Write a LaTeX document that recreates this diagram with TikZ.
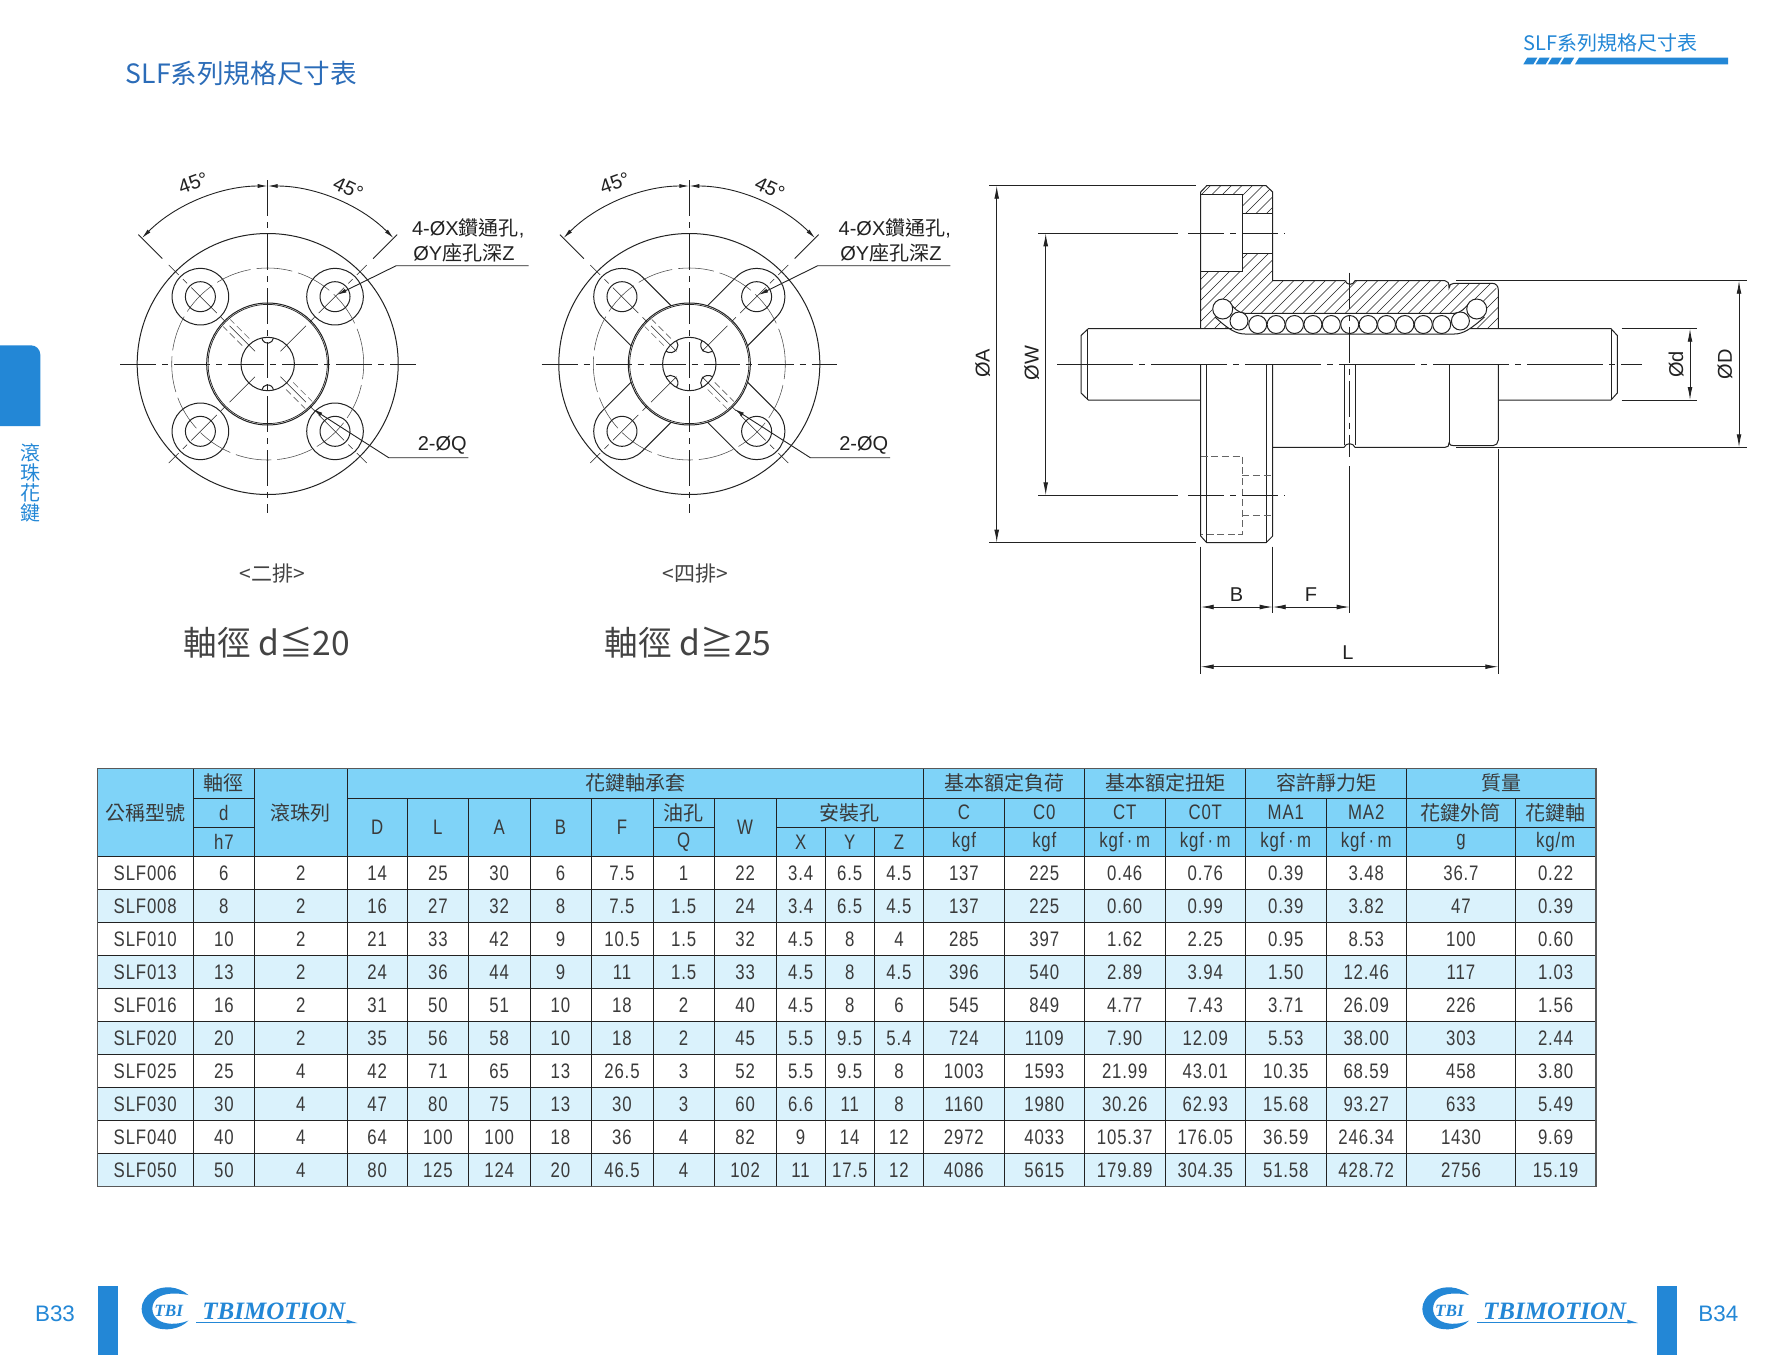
\documentclass[tikz,border=0pt]{standalone}
\usepackage{fontspec}
\usetikzlibrary{arrows.meta}
\setmainfont{Liberation Sans}
\newfontfamily\cjk{Noto Sans CJK TC}
\newfontfamily\tabf[FakeStretch=0.8,LetterSpace=4]{Liberation Sans}
\newfontfamily\logof{Liberation Serif}
\definecolor{ink}{HTML}{222222}
\definecolor{tabtext}{HTML}{3A3A3A}
\definecolor{hdfill}{HTML}{7FD3F8}
\definecolor{altfill}{HTML}{DAF2FC}
\definecolor{brand}{HTML}{2387D6}
\definecolor{titleblue}{HTML}{2B6CB8}
\newcommand\fz[1]{\fontsize{#1}{#1}\selectfont}
\newcommand\cz[1]{{\cjk\fz{10}#1}}
\newcommand\kgfm{kgf\,·\,m}
\tikzset{
  ol/.style={draw=ink,line width=0.5pt},
  olthin/.style={draw=ink,line width=0.35pt},
  cl/.style={draw=ink,line width=0.28pt,dash pattern=on 18pt off 3pt on 3pt off 3pt},
  clong/.style={draw=ink,line width=0.28pt,dash pattern=on 38pt off 3pt on 3pt off 3pt},
  hid/.style={draw=ink!70,line width=0.28pt,dash pattern=on 3.5pt off 1.8pt},
  pcd/.style={draw=ink!80,line width=0.28pt,dash pattern=on 18pt off 3pt},
  dimline/.style={draw=ink,line width=0.4pt},
  smallarr/.style={draw=ink,line width=0.45pt,{Latex[length=5pt,width=2pt]}-{Latex[length=5pt,width=2pt]}},
  onearr/.style={draw=ink,line width=0.45pt,-{Latex[length=5pt,width=2pt]}},
  bigarr/.style={draw=ink,line width=0.45pt,{Latex[length=6.5pt,width=2.4pt]}-{Latex[length=6.5pt,width=2.4pt]}},
  lab/.style={inner sep=0pt,text=ink,font=\fz{10}},
  tcell/.style={inner sep=0pt,text=tabtext,font=\tabf\fz{10.5}},
  gridin/.style={draw=ink,line width=0.4pt},
  gridout/.style={draw=ink!75,line width=0.7pt},
  bluetxt/.style={inner sep=0pt,text=brand},
}
\def\colx{{97.2,193.3,254.5,347.2,407.2,468.5,530,591,653,714.3,776,825.2,874.3,923.6,1004.2,1084.4,1165,1245.6,1326,1406.5,1515.4,1595.8}}
\newcommand\hcell[6]{%
  \pgfmathsetmacro\hxa{\colx[#2]}%
  \pgfmathsetmacro\hxb{\colx[#3]}%
  \pgfmathsetmacro\hx{(\hxa+\hxb)/2}%
  \pgfmathsetmacro\hy{-(#4+#5)/2}%
  \node[tcell] (#1) at (\hx,\hy) {#6};}
\newcommand\vgrid[3]{\foreach \ix in {#1}{\pgfmathsetmacro\vx{\colx[\ix]}\draw[gridin] (\vx,-#2)--(\vx,-#3);}}
\newcommand\hgrid[3]{\pgfmathsetmacro\hxa{\colx[#1]}\pgfmathsetmacro\hxb{\colx[#2]}\draw[gridin] (\hxa,-#3)--(\hxb,-#3);}
% parts shared by the two flange views, in coordinates relative to the centre
\newcommand\flangeparts[3]{%
  \draw[ol] (0,0) circle (130.5);
  \draw[pcd] (0,0) circle (96);
  \draw[olthin] (0,0) circle (59.6);
  \draw[ol] (0,0) circle (61);
  \draw[ol] (0,0) circle (26.7);
  \foreach \a in {45,135,225,315}{
    \draw[ol] (\a:95.2) circle (15);
    \draw[cl] (\a:18) -- (\a:140);
  }
  \foreach \a in {#1}{
    \draw[ol] (\a:26.7) ++({\a+100}:#2) arc ({\a+100}:{\a+260}:#2);
  }
  \foreach \a in {135,-45}{
    \draw[hid,rotate=\a] (31,5) -- (58,5);
    \draw[hid,rotate=\a] (31,-5) -- (58,-5);
  }
  \draw[cl] (-147.7,0) -- (148,0);
  \draw[cl] (0,184) -- (0,-148.7);
  \draw[dimline] (135:149) -- (135:183);
  \draw[dimline] (45:149) -- (45:183);
  \draw[smallarr] (135:178) arc (135:90:178);
  \draw[smallarr] (90:178) arc (90:45:178);
  \node[lab,font=\fz{10},rotate=20] (ang#3l) at (-74.5,181) {45°};
  \node[lab,font=\fz{10},rotate=-25] (ang#3r) at (80.6,175.7) {45°};
  \coordinate (k#3a) at (128.5,98.3);
  \coordinate (e#3a) at (261,98.3);
  \coordinate (t#3a) at (69,69);
  \draw[onearr] (e#3a) -- (k#3a) -- (t#3a);
  \coordinate (k#3b) at (121,-93.7);
  \coordinate (e#3b) at (200.7,-93.7);
  \coordinate (t#3b) at (45,-45);
  \draw[onearr] (e#3b) -- (k#3b) -- (t#3b);
  \node[lab,anchor=center] (lq#3) at (174.5,-81) {2-ØQ};
}
\newcommand\tbilogo[2]{%
  \begin{scope}[shift={(#1,-1270)},x=0.16667pt,y=0.16667pt]
    \fill[brand] (565,-75) .. controls (535,-48) and (490,-46) .. (462,-62)
      .. controls (435,-78) and (425,-98) .. (425,-116)
      .. controls (425,-140) and (440,-162) .. (465,-172)
      .. controls (495,-184) and (540,-178) .. (565,-152)
      .. controls (530,-166) and (492,-164) .. (472,-148)
      .. controls (452,-132) and (452,-100) .. (472,-84)
      .. controls (492,-68) and (530,-68) .. (565,-75) -- cycle;
    \node[inner sep=0pt,text=brand,font=\logof\bfseries\itshape\fz{8.6}] (tbi#2) at (506,-122) {TBI};
    \node[inner sep=0pt,text=brand,font=\logof\bfseries\itshape\fz{12.5},anchor=west] (motion#2) at (606,-123) {TBIMOTION};
    \fill[brand] (588,-155) rectangle (1048,-159);
    \fill[brand] (1040,-149) -- (1072,-159) -- (1040,-160) -- cycle;
  \end{scope}}
\begin{document}
\begin{tikzpicture}[x=0.5pt,y=0.5pt]
\fill[white] (0,0) rectangle (1772,-1355);
\useasboundingbox (0,0) rectangle (1772,-1355);

% ---------- page furniture
\node[inner sep=0pt,anchor=west,text=titleblue,font=\cjk\fz{13.3}] (title) at (125.4,-73.5) {SLF系列規格尺寸表};
\node[bluetxt,anchor=west,font=\cjk\fz{10}] (sect) at (1523,-43) {SLF系列規格尺寸表};
\foreach \i in {0,1,2,3}{
  \fill[brand] ({1523.3+12.3*\i},-64.3) -- ({1527.3+12.3*\i},-57.7) -- ({1537.3+12.3*\i},-57.7) -- ({1533.3+12.3*\i},-64.3) -- cycle;
}
\fill[brand] (1575,-64.3) -- (1579,-57.7) -- (1728,-57.7) -- (1728,-64.3) -- cycle;
\fill[brand] (0,-345.3) -- (31,-345.3) arc (90:0:9.3) -- (40.3,-426) -- (0,-426) -- cycle;
\node[bluetxt,font=\cjk\fz{10}] (s1) at (30,-452.7) {滾};
\node[bluetxt,font=\cjk\fz{10}] (s2) at (30,-472.7) {珠};
\node[bluetxt,font=\cjk\fz{10}] (s3) at (30,-493.3) {花};
\node[bluetxt,font=\cjk\fz{10}] (s4) at (30,-513.3) {鍵};
\node[bluetxt,font=\fz{11.2}] (p33) at (55,-1313.3) {B33};
\node[bluetxt,font=\fz{11.2}] (p34) at (1718.3,-1313.3) {B34};
\fill[brand] (97.7,-1286) rectangle (117.7,-1355);
\fill[brand] (1657.3,-1286) rectangle (1677.3,-1355);
\tbilogo{0}{a}
\tbilogo{1280.7}{b}

% ---------- flange view, two rows
\begin{scope}[shift={(267.7,-364)}]
  \foreach \a in {45,135,225,315}{\draw[ol] (\a:95.2) circle (28.3);}
  \flangeparts{90,270}{5.8}{a}
  \node[lab,anchor=west] (xa) at (144,135.7) {4-ØX{\cjk 鑽通孔},};
  \node[lab,anchor=west] (ya) at (145.3,111) {ØY{\cjk 座孔深}Z};
\end{scope}
\node[inner sep=0pt,text=ink!85,font=\cjk\fz{10.5}] (cap2) at (272.4,-574) {<二排>};
\node[inner sep=0pt,text=ink!85,font=\cjk\fz{16.8}] (dia2) at (266.7,-643) {軸徑 d≦20};

% ---------- flange view, four rows
\begin{scope}[shift={(689.3,-364)}]
  \foreach \a in {45,135,225,315}{
    \draw[ol,rotate=\a] (54,28.3) -- (95.2,28.3) arc (90:-90:28.3) -- (54,-28.3);
  }
  \flangeparts{45,135,225,315}{7.5}{b}
  \node[lab,anchor=west] (xb) at (149,135.7) {4-ØX{\cjk 鑽通孔},};
  \node[lab,anchor=west] (yb) at (150.7,111) {ØY{\cjk 座孔深}Z};
\end{scope}
\node[inner sep=0pt,text=ink!85,font=\cjk\fz{10.5}] (cap4) at (695,-574) {<四排>};
\node[inner sep=0pt,text=ink!85,font=\cjk\fz{16.8}] (dia4) at (688.2,-643) {軸徑 d≧25};

% ---------- section view
\begin{scope}
  \clip (1206.7,-185.7) -- (1266,-185.7) -- (1272.7,-192) -- (1272.7,-280.7) -- (1445,-280.7)
    -- (1449,-288) -- (1454,-283.3) -- (1492,-283.3) -- (1498.3,-290) -- (1498.3,-328.7)
    -- (1200.7,-328.7) -- (1200.7,-192) -- cycle;
  \foreach \h in {1040,1050.5,...,1500}{\draw[olthin,line width=0.28pt] (\h,-335) -- ++(160,160);}
\end{scope}
\fill[white] (1200.7,-194.3) rectangle (1242.3,-271.7);
\fill[white] (1242.3,-213.3) rectangle (1272.7,-253.3);
\fill[white] (1245,-313.3) -- (1454.4,-313.3) .. controls (1461,-313) and (1465,-308) .. (1470.4,-302)
  -- (1487,-310) -- (1484.4,-317) .. controls (1471,-329) and (1463,-334) .. (1454.4,-334)
  -- (1245,-334) .. controls (1236,-334) and (1228,-329) .. (1215,-317) -- (1212,-308) -- (1229,-302)
  .. controls (1234,-308) and (1238,-313) .. (1245,-313.3) -- cycle;
% flange and body outline, upper half
\draw[ol] (1200.7,-328.7) -- (1200.7,-192) -- (1206.7,-185.7) -- (1266,-185.7) -- (1272.7,-192) -- (1272.7,-280.7)
  -- (1345,-280.7) .. controls (1347,-285.5) and (1353,-285.5) .. (1355,-280.7) -- (1445,-280.7)
  .. controls (1448,-280.7) and (1449,-283) .. (1449,-288)
  .. controls (1449,-285) and (1451,-283.3) .. (1454,-283.3) -- (1492,-283.3)
  .. controls (1496,-283.3) and (1498.3,-286) .. (1498.3,-290) -- (1498.3,-328.7);
\draw[ol] (1200.7,-194.3) -- (1242.3,-194.3) -- (1242.3,-271.7) -- (1200.7,-271.7);
\draw[ol] (1242.3,-213.3) -- (1272.7,-213.3);
\draw[ol] (1242.3,-253.3) -- (1272.7,-253.3);
% ball channel
\draw[ol] (1229,-302) .. controls (1234,-308) and (1238,-313) .. (1245,-313.3) -- (1454.4,-313.3)
  .. controls (1461,-313) and (1465,-308) .. (1470.4,-302);
\draw[ol] (1215,-317) .. controls (1228,-329) and (1236,-334) .. (1245,-334) -- (1454.4,-334)
  .. controls (1463,-334) and (1471,-329) .. (1484.4,-317);
\foreach \b in {0,...,10}{\draw[ol,fill=white] ({1257.7+18.4*\b},-324.5) circle (9);}
\draw[ol,fill=white] (1239,-321) circle (9);
\draw[ol,fill=white] (1460.4,-321) circle (9);
\draw[ol,fill=white] (1222.7,-309) circle (10);
\draw[ol,fill=white] (1476.7,-309) circle (10);
% shaft
\draw[ol] (1232,-328.7) -- (1088.3,-328.7) -- (1081,-335.5) -- (1081,-393) -- (1088.3,-400) -- (1200.7,-400);
\draw[ol] (1087.7,-328.7) -- (1087.7,-400);
\draw[ol] (1470,-328.7) -- (1611,-328.7) -- (1617.3,-335.5) -- (1617.3,-393) -- (1611,-400) -- (1498.3,-400);
\draw[ol] (1611,-328.7) -- (1611,-400);
% lower half
\draw[ol] (1200.7,-364.3) -- (1200.7,-536) -- (1206.7,-542.7) -- (1266,-542.7) -- (1272.7,-536) -- (1272.7,-364.3);
\draw[ol] (1206.7,-364.3) -- (1206.7,-542.7);
\draw[ol] (1266,-364.3) -- (1266,-542.7);
\draw[ol] (1272.7,-447.3) -- (1344,-447.3) .. controls (1346,-442.5) and (1353,-442.5) .. (1355,-447.3) -- (1445,-447.3)
  .. controls (1448,-447.3) and (1449,-446) .. (1449,-443)
  .. controls (1450,-445) and (1451,-445.7) .. (1454,-445.7) -- (1493,-445.7)
  .. controls (1496,-445.7) and (1498.3,-443) .. (1498.3,-440) -- (1498.3,-364.3);
\draw[ol] (1449,-364.3) -- (1449,-443);
\draw[olthin] (1344,-364.3) -- (1344,-445);
\draw[olthin] (1355,-364.3) -- (1355,-445);
% hidden bolt hole
\draw[hid] (1200.7,-456) -- (1242.3,-456) -- (1242.3,-534) -- (1200.7,-534);
\draw[hid] (1242.3,-475) -- (1272.7,-475);
\draw[hid] (1242.3,-515.3) -- (1272.7,-515.3);
% centre lines
\draw[clong] (1057,-364.3) -- (1641.7,-364.3);
\draw[cl] (1188.3,-233.3) -- (1285,-233.3);
\draw[cl] (1188.3,-495.3) -- (1285,-495.3);
\draw[cl] (1349.7,-272.7) -- (1349.7,-456.7);
% dimension lines
\draw[dimline] (989,-185.7) -- (1196,-185.7);
\draw[dimline] (989,-542.7) -- (1196,-542.7);
\draw[bigarr] (996.7,-185.7) -- (996.7,-542.7);
\node[lab,rotate=90] (dA) at (982.7,-363.3) {ØA};
\draw[dimline] (1038.3,-233.3) -- (1178.3,-233.3);
\draw[dimline] (1038.3,-495.3) -- (1178.3,-495.3);
\draw[bigarr] (1045.7,-233.3) -- (1045.7,-495.3);
\node[lab,rotate=90] (dW) at (1031.7,-363.3) {ØW};
\draw[dimline] (1621.7,-328.7) -- (1697.3,-328.7);
\draw[dimline] (1621.7,-400) -- (1697.3,-400);
\draw[bigarr] (1690,-328.7) -- (1690,-400);
\node[lab,rotate=90] (dd) at (1676,-364.3) {Ød};
\draw[dimline] (1456,-280.7) -- (1746.7,-280.7);
\draw[dimline] (1456,-447.3) -- (1746.7,-447.3);
\draw[bigarr] (1739,-280.7) -- (1739,-447.3);
\node[lab,rotate=90] (dD) at (1725,-364.3) {ØD};
\draw[dimline] (1200.7,-546.7) -- (1200.7,-673.5);
\draw[dimline] (1272.7,-546.7) -- (1272.7,-612.5);
\draw[dimline] (1349.7,-466) -- (1349.7,-612.5);
\draw[dimline] (1498.3,-449) -- (1498.3,-673.5);
\draw[bigarr] (1200.7,-607) -- (1272.7,-607);
\draw[bigarr] (1272.7,-607) -- (1349.7,-607);
\draw[bigarr] (1200.7,-666.7) -- (1498.3,-666.7);
\node[lab] (dB) at (1236.5,-595) {B};
\node[lab] (dF) at (1311,-595) {F};
\node[lab] (dL) at (1348,-653) {L};

% ---------- table
\fill[hdfill] (97.2,-768.5) rectangle (1595.8,-856.6);
\foreach \rr in {1,3,5,7,9}{\fill[altfill] (97.2,{-856.6-33*\rr}) rectangle (1595.8,{-856.6-33*(\rr+1)});}
\vgrid{1,2,3,13,15,17,19}{768.5}{1186.6}
\vgrid{4,5,6,7,8,9,10,14,16,18,20}{798}{1186.6}
\vgrid{11,12}{827}{1186.6}
\hgrid{1}{2}{798}
\hgrid{3}{21}{798}
\hgrid{1}{2}{827}
\hgrid{8}{9}{827}
\hgrid{10}{21}{827}
\foreach \rr in {0,...,9}{\pgfmathsetmacro\ly{856.6+33*\rr}\hgrid{0}{21}{\ly}}
\draw[gridout] (97.2,-768.5) rectangle (1595.8,-1186.6);

\hcell{h1}{0}{1}{768.5}{856.6}{\cz{公稱型號}}
\hcell{h2}{1}{2}{768.5}{798}{\cz{軸徑}}
\hcell{h3}{1}{2}{798}{827}{d}
\hcell{h4}{1}{2}{827}{856.6}{h7}
\hcell{h5}{2}{3}{768.5}{856.6}{\cz{滾珠列}}
\hcell{h6}{3}{13}{768.5}{798}{\cz{花鍵軸承套}}
\hcell{h7}{3}{4}{798}{856.6}{D}
\hcell{h8}{4}{5}{798}{856.6}{L}
\hcell{h9}{5}{6}{798}{856.6}{A}
\hcell{h10}{6}{7}{798}{856.6}{B}
\hcell{h11}{7}{8}{798}{856.6}{F}
\hcell{h12}{8}{9}{798}{827}{\cz{油孔}}
\hcell{h13}{8}{9}{827}{856.6}{Q}
\hcell{h14}{9}{10}{798}{856.6}{W}
\hcell{h15}{10}{13}{798}{827}{\cz{安裝孔}}
\hcell{h16}{10}{11}{827}{856.6}{X}
\hcell{h17}{11}{12}{827}{856.6}{Y}
\hcell{h18}{12}{13}{827}{856.6}{Z}
\hcell{h19}{13}{15}{768.5}{798}{\cz{基本額定負荷}}
\hcell{h20}{15}{17}{768.5}{798}{\cz{基本額定扭矩}}
\hcell{h21}{17}{19}{768.5}{798}{\cz{容許靜力矩}}
\hcell{h22}{19}{21}{768.5}{798}{\cz{質量}}
\hcell{h23}{13}{14}{798}{827}{C}
\hcell{h24}{14}{15}{798}{827}{C0}
\hcell{h25}{15}{16}{798}{827}{CT}
\hcell{h26}{16}{17}{798}{827}{C0T}
\hcell{h27}{17}{18}{798}{827}{MA1}
\hcell{h28}{18}{19}{798}{827}{MA2}
\hcell{h29}{19}{20}{798}{827}{\cz{花鍵外筒}}
\hcell{h30}{20}{21}{798}{827}{\cz{花鍵軸}}
\hcell{h31}{13}{14}{827}{856.6}{kgf}
\hcell{h32}{14}{15}{827}{856.6}{kgf}
\hcell{h33}{15}{16}{827}{856.6}{\kgfm}
\hcell{h34}{16}{17}{827}{856.6}{\kgfm}
\hcell{h35}{17}{18}{827}{856.6}{\kgfm}
\hcell{h36}{18}{19}{827}{856.6}{\kgfm}
\hcell{h37}{19}{20}{827}{856.6}{g}
\hcell{h38}{20}{21}{827}{856.6}{kg/m}

\foreach \row [count=\ri from 0] in {
 {SLF006,6,2,14,25,30,6,7.5,1,22,3.4,6.5,4.5,137,225,0.46,0.76,0.39,3.48,36.7,0.22},
 {SLF008,8,2,16,27,32,8,7.5,1.5,24,3.4,6.5,4.5,137,225,0.60,0.99,0.39,3.82,47,0.39},
 {SLF010,10,2,21,33,42,9,10.5,1.5,32,4.5,8,4,285,397,1.62,2.25,0.95,8.53,100,0.60},
 {SLF013,13,2,24,36,44,9,11,1.5,33,4.5,8,4.5,396,540,2.89,3.94,1.50,12.46,117,1.03},
 {SLF016,16,2,31,50,51,10,18,2,40,4.5,8,6,545,849,4.77,7.43,3.71,26.09,226,1.56},
 {SLF020,20,2,35,56,58,10,18,2,45,5.5,9.5,5.4,724,1109,7.90,12.09,5.53,38.00,303,2.44},
 {SLF025,25,4,42,71,65,13,26.5,3,52,5.5,9.5,8,1003,1593,21.99,43.01,10.35,68.59,458,3.80},
 {SLF030,30,4,47,80,75,13,30,3,60,6.6,11,8,1160,1980,30.26,62.93,15.68,93.27,633,5.49},
 {SLF040,40,4,64,100,100,18,36,4,82,9,14,12,2972,4033,105.37,176.05,36.59,246.34,1430,9.69},
 {SLF050,50,4,80,125,124,20,46.5,4,102,11,17.5,12,4086,5615,179.89,304.35,51.58,428.72,2756,15.19}}{
  \foreach \v [count=\ci from 0] in \row {
    \pgfmathtruncatemacro\cn{\ci+1}
    \pgfmathsetmacro\cxa{\colx[\ci]}
    \pgfmathsetmacro\cxb{\colx[\cn]}
    \pgfmathsetmacro\cx{(\cxa+\cxb)/2}
    \pgfmathsetmacro\cy{-(856.6+33*\ri+16.5)}
    \node[tcell] (c-\ri-\ci) at (\cx,\cy) {\v};
  }
}
\end{tikzpicture}
\end{document}
